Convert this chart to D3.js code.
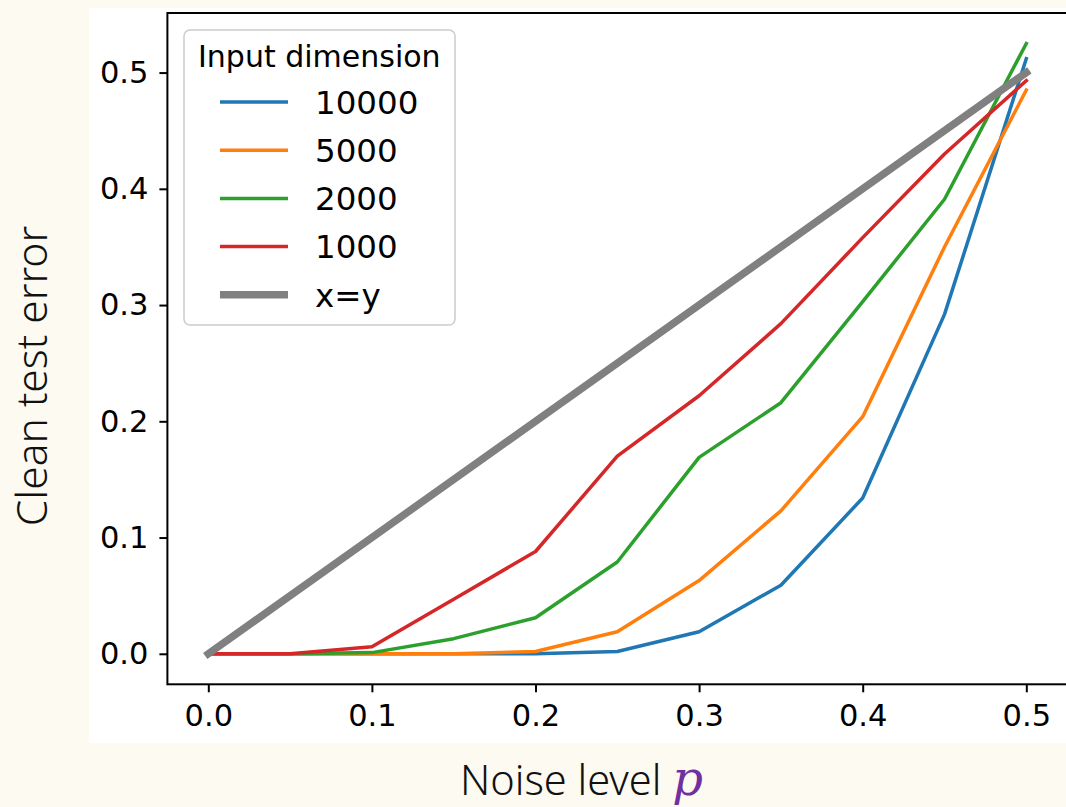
<!DOCTYPE html>
<html>
<head>
<meta charset="utf-8">
<script src="https://cdn.jsdelivr.net/npm/d3@7"></script>
<style>
  body { margin: 0; background: #fdfaf1; }
  svg { display: block; }
  .tick text { font-family: "DejaVu Sans", sans-serif; font-size: 30.5px; fill: #000; }
  .tick line { stroke: #000; stroke-width: 2px; }
</style>
</head>
<body>
<div class="chart"></div>
<script>
const noise = [0, 0.05, 0.1, 0.15, 0.2, 0.25, 0.3, 0.35, 0.4, 0.45, 0.5];
const dims = ['10000', '5000', '2000', '1000'];
const err10000 = [0, 0, 0, 0, 0, 0.002, 0.019, 0.059, 0.134, 0.292, 0.512];
const err5000 = [0, 0, 0, 0, 0.002, 0.019, 0.063, 0.123, 0.204, 0.350, 0.485];
const err2000 = [0, 0, 0.001, 0.013, 0.031, 0.079, 0.169, 0.216, 0.303, 0.391, 0.525];
const err1000 = [0, 0, 0.006, 0.047, 0.088, 0.170, 0.222, 0.284, 0.358, 0.430, 0.493];
const identity = [0, 0.5];
const xTicks = [0, 0.1, 0.2, 0.3, 0.4, 0.5];
const yTicks = [0, 0.1, 0.2, 0.3, 0.4, 0.5];

const colors = ['#1f77b4', '#ff7f0e', '#2ca02c', '#d62728'];
const width = 1066;
const height = 807;
const plot = { left: 167.4, right: 1067.2, top: 13, bottom: 684.3 };

const svg = d3.select('.chart')
  .append('svg')
  .attr('width', width)
  .attr('height', height);

// white figure area
svg.append('rect')
  .attr('x', 89).attr('y', 8)
  .attr('width', width - 89).attr('height', 735)
  .attr('fill', '#fff');

const xScale = d3.scaleLinear()
  .domain([-0.025, 0.525])
  .range([plot.left, plot.right]);
const yScale = d3.scaleLinear()
  .domain([-0.02625, 0.55125])
  .range([plot.bottom, plot.top]);

const xAxis = d3.axisBottom(xScale)
  .tickValues(xTicks)
  .tickFormat(d3.format('.1f'))
  .tickSize(8)
  .tickPadding(12);
const yAxis = d3.axisLeft(yScale)
  .tickValues(yTicks)
  .tickFormat(d3.format('.1f'))
  .tickSize(8)
  .tickPadding(11);

svg.append('g')
  .attr('transform', `translate(0, ${plot.bottom})`)
  .call(xAxis)
  .call(g => g.select('.domain').remove());

svg.append('g')
  .attr('transform', `translate(${plot.left}, 0)`)
  .call(yAxis)
  .call(g => g.select('.domain').remove());

const series = [err10000, err5000, err2000, err1000];
const line = d3.line()
  .x((d, i) => xScale(noise[i]))
  .y(d => yScale(d));

series.forEach((s, k) => {
  svg.append('path')
    .datum(s)
    .attr('d', line)
    .attr('fill', 'none')
    .attr('stroke', colors[k])
    .attr('stroke-width', 3.5)
    .attr('stroke-linejoin', 'round')
    .attr('stroke-linecap', 'square');
});

svg.append('path')
  .datum(identity)
  .attr('d', d3.line().x(d => xScale(d)).y(d => yScale(d)))
  .attr('fill', 'none')
  .attr('stroke', '#808080')
  .attr('stroke-width', 7.5)
  .attr('stroke-linecap', 'square');

// spines
svg.append('rect')
  .attr('x', plot.left).attr('y', plot.top)
  .attr('width', plot.right - plot.left)
  .attr('height', plot.bottom - plot.top)
  .attr('fill', 'none')
  .attr('stroke', '#000')
  .attr('stroke-width', 2);

// legend
const legend = svg.append('g');
legend.append('rect')
  .attr('x', 184).attr('y', 30)
  .attr('width', 271).attr('height', 295)
  .attr('rx', 6)
  .attr('fill', 'rgba(255,255,255,0.8)')
  .attr('stroke', '#cccccc')
  .attr('stroke-width', 1.5);
legend.append('text')
  .attr('x', 198).attr('y', 66.5)
  .attr('font-family', 'DejaVu Sans, sans-serif')
  .attr('font-size', 30)
  .text('Input dimension');

const labels = dims.concat(['x=y']);
const rowY = i => 102 + i * 48.2;
labels.forEach((lab, i) => {
  legend.append('line')
    .attr('x1', 220).attr('x2', 288)
    .attr('y1', rowY(i)).attr('y2', rowY(i))
    .attr('stroke', i < 4 ? colors[i] : '#808080')
    .attr('stroke-width', i < 4 ? 3.5 : 7.5);
  legend.append('text')
    .attr('x', 315).attr('y', rowY(i))
    .attr('dy', '0.36em')
    .attr('font-family', 'DejaVu Sans, sans-serif')
    .attr('font-size', 32.5)
    .text(lab);
});

// axis labels (outside the white figure)
svg.append('text')
  .attr('transform', 'translate(47, 376) rotate(-90)')
  .attr('text-anchor', 'middle')
  .attr('font-family', 'Noto Sans, sans-serif')
  .attr('font-weight', 300)
  .attr('font-size', 42.5)
  .attr('fill', '#111')
  .text('Clean test error');

const xl = svg.append('text')
  .attr('x', 460).attr('y', 795)
  .attr('font-family', 'Noto Sans, sans-serif')
  .attr('font-weight', 300)
  .attr('font-size', 41.5)
  .attr('fill', '#111');
xl.append('tspan').text('Noise level ');
xl.append('tspan')
  .attr('font-family', 'DejaVu Serif, serif')
  .attr('font-style', 'italic')
  .attr('font-size', 48)
  .attr('fill', '#7030a0')
  .text('p');
</script>
</body>
</html>
